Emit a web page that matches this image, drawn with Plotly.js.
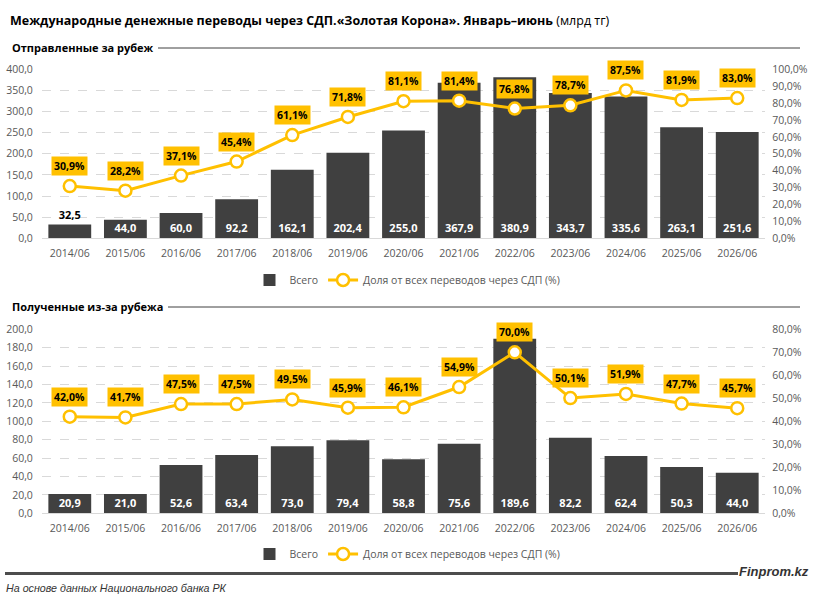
<!DOCTYPE html>
<html>
<head>
<meta charset="utf-8">
<script src="https://cdn.plot.ly/plotly-3.0.1.min.js"></script>
<style>
html,body{margin:0;padding:0;background:#fff;}
#chart{width:815px;height:601px;}
</style>
</head>
<body>
<div id="chart"></div>
<script>
const categories = ["2014/06","2015/06","2016/06","2017/06","2018/06","2019/06","2020/06","2021/06","2022/06","2023/06","2024/06","2025/06","2026/06"];
const sentTotal = [32.5,44.0,60.0,92.2,162.1,202.4,255.0,367.9,380.9,343.7,335.6,263.1,251.6];
const sentShare = [30.9,28.2,37.1,45.4,61.1,71.8,81.1,81.4,76.8,78.7,87.5,81.9,83.0];
const recvTotal = [20.9,21.0,52.6,63.4,73.0,79.4,58.8,75.6,189.6,82.2,62.4,50.3,44.0];
const recvShare = [42.0,41.7,47.5,47.5,49.5,45.9,46.1,54.9,70.0,50.1,51.9,47.7,45.7];

const titleBold = "Международные денежные переводы через СДП.«Золотая Корона». Январь–июнь";
const titleUnit = " (млрд тг)";
const sentHeader = "Отправленные за рубеж";
const recvHeader = "Полученные из-за рубежа";
const barName = "Всего";
const lineName = "Доля от всех переводов через СДП (%)";
const sourceText = "На основе данных Национального банка РК";
const brandText = "Finprom.kz";

const GOLD = "#FFC000";
const BAR = "#404040";
const GRID = "#D9D9D9";
const TICK = "#595959";
const FONT = "'Open Sans', 'Liberation Sans', sans-serif";
const LIB = "'Liberation Sans', 'Open Sans', sans-serif";

const fmt = v => v.toFixed(1).replace('.', ',');

function barTrace(vals, xa, ya, threshold) {
  return {
    type: 'bar', x: categories, y: vals, xaxis: xa, yaxis: ya,
    name: barName, marker: {color: BAR},
    text: vals.map(fmt),
    textposition: vals.map(v => v < threshold ? 'outside' : 'inside'),
    insidetextanchor: 'start',
    constraintext: 'none',
    cliponaxis: false,
    insidetextfont: {family: FONT, size: 11, color: '#FFFFFF', weight: 700},
    outsidetextfont: {family: FONT, size: 11, color: '#000000', weight: 700},
    textfont: {family: FONT, size: 11, weight: 700},
    hoverinfo: 'skip',
    legend: xa === 'x' ? 'legend' : 'legend2'
  };
}
function lineTrace(vals, xa, ya) {
  return {
    type: 'scatter', mode: 'lines+markers', x: categories, y: vals, xaxis: xa, yaxis: ya,
    name: lineName,
    line: {color: GOLD, width: 3},
    marker: {size: 12, color: '#FFFFFF', line: {color: GOLD, width: 2.5}},
    cliponaxis: false,
    hoverinfo: 'skip',
    legend: xa === 'x' ? 'legend' : 'legend2'
  };
}

const data = [
  barTrace(sentTotal, 'x', 'y', 40),
  lineTrace(sentShare, 'x', 'y2'),
  barTrace(recvTotal, 'x2', 'y3', 0),
  lineTrace(recvShare, 'x2', 'y4'),
  {type: 'scatter', mode: 'lines', x: [5, 738], y: [573.5, 573.5], xaxis: 'x3', yaxis: 'y5',
   line: {color: '#4D4D4D', width: 3}, showlegend: false, hoverinfo: 'skip', cliponaxis: false}
];

function pctAnn(vals, xa, ya) {
  return vals.map((v, i) => ({
    x: categories[i], y: v, xref: xa, yref: ya, text: '<b>' + fmt(v) + '%</b>',
    showarrow: false, yshift: 20, bgcolor: GOLD, borderpad: 2,
    font: {family: FONT, size: 10.5, color: '#000000'}
  }));
}

const XDOM = [0.0515, 0.9387];
const tickfont = {family: FONT, size: 10.5, color: TICK};
const leftAxis = (dom, max, dt, anchor) => ({
  domain: dom, range: [0, max], dtick: dt, tickformat: '.1f', anchor: anchor,
  showgrid: true, gridcolor: GRID, griddash: 'dash', gridwidth: 1,
  zeroline: false, tickfont: tickfont, ticks: 'outside', ticklen: 6, tickcolor: 'rgba(0,0,0,0)',
  fixedrange: true
});
const rightAxis = (over, max, anchor) => ({
  overlaying: over, side: 'right', range: [0, max], dtick: 10, tickformat: '.1f', ticksuffix: '%',
  anchor: anchor, showgrid: false, zeroline: false, tickfont: tickfont,
  ticks: 'outside', ticklen: 4, tickcolor: 'rgba(0,0,0,0)', fixedrange: true
});
const xAxis = (anchor) => ({
  domain: XDOM, type: 'category', anchor: anchor, range: [-0.5, categories.length - 0.5],
  showline: true, linecolor: GRID, linewidth: 1,
  tickfont: tickfont, ticks: 'outside', ticklen: 5, tickcolor: 'rgba(0,0,0,0)', fixedrange: true
});
const hiddenAxis = (range, anchor) => ({
  domain: [0, 1], range: range, anchor: anchor, visible: false, showgrid: false, zeroline: false, fixedrange: true
});

const legendFont = {family: FONT, size: 10.5, color: TICK};
const layout = {
  width: 815, height: 601,
  margin: {l: 0, r: 0, t: 0, b: 0},
  paper_bgcolor: '#FFFFFF', plot_bgcolor: 'rgba(0,0,0,0)',
  separators: ', ',
  font: {family: FONT, color: TICK},
  bargap: 0.23,
  showlegend: true,
  xaxis: xAxis('y'),
  yaxis: leftAxis([0.6035, 0.8847], 400, 50, 'x'),
  yaxis2: rightAxis('y', 100, 'x'),
  xaxis2: xAxis('y3'),
  yaxis3: leftAxis([0.1459, 0.4521], 200, 20, 'x2'),
  yaxis4: rightAxis('y3', 80, 'x2'),
  xaxis3: hiddenAxis([0, 815], 'y5'),
  yaxis5: hiddenAxis([601, 0], 'x3'),
  legend: {orientation: 'h', x: 0.5, xanchor: 'center', y: 1 - 280/601, yanchor: 'middle',
           font: legendFont, itemwidth: 30, bgcolor: 'rgba(0,0,0,0)', borderwidth: 0},
  legend2: {orientation: 'h', x: 0.5, xanchor: 'center', y: 1 - 554/601, yanchor: 'middle',
           font: legendFont, itemwidth: 30, bgcolor: 'rgba(0,0,0,0)', borderwidth: 0},
  shapes: [
    {type: 'line', xref: 'paper', yref: 'paper', x0: 158/815, x1: 800/815, y0: 1 - 48/601, y1: 1 - 48/601,
     line: {color: '#404040', width: 1}, layer: 'above'},
    {type: 'line', xref: 'paper', yref: 'paper', x0: 168/815, x1: 800/815, y0: 1 - 307/601, y1: 1 - 307/601,
     line: {color: '#404040', width: 1}, layer: 'above'},
    {type: 'line', xref: 'paper', yref: 'paper', x0: 5/815, x1: 738/815, y0: 1 - 573.5/601, y1: 1 - 573.5/601,
     line: {color: '#4D4D4D', width: 3}, layer: 'above'}
  ],
  annotations: [
    {xref: 'paper', yref: 'paper', x: 8/815, y: 1 - 21/601, xanchor: 'left', yanchor: 'middle', showarrow: false,
     text: '<b>' + titleBold + '</b>' + titleUnit, font: {family: FONT, size: 12.5, color: '#000000'}},
    {xref: 'paper', yref: 'paper', x: 10/815, y: 1 - 47/601, xanchor: 'left', yanchor: 'middle', showarrow: false,
     text: '<b>' + sentHeader + '</b>', font: {family: FONT, size: 11, color: '#000000'}},
    {xref: 'paper', yref: 'paper', x: 10/815, y: 1 - 306/601, xanchor: 'left', yanchor: 'middle', showarrow: false,
     text: '<b>' + recvHeader + '</b>', font: {family: FONT, size: 11, color: '#000000'}},
    {xref: 'paper', yref: 'paper', x: 4/815, y: 1 - 588/601, xanchor: 'left', yanchor: 'middle', showarrow: false,
     text: '<i>' + sourceText + '</i>', font: {family: LIB, size: 10.7, color: '#333333'}},
    {xref: 'paper', yref: 'paper', x: 811/815, y: 1 - 571/601, xanchor: 'right', yanchor: 'middle', showarrow: false,
     text: '<b><i>' + brandText + '</i></b>', font: {family: LIB, size: 13, color: '#333333'}}
  ].concat(pctAnn(sentShare, 'x', 'y2')).concat(pctAnn(recvShare, 'x2', 'y4'))
};

Plotly.newPlot('chart', data, layout, {staticPlot: true, displayModeBar: false});
</script>
</body>
</html>
